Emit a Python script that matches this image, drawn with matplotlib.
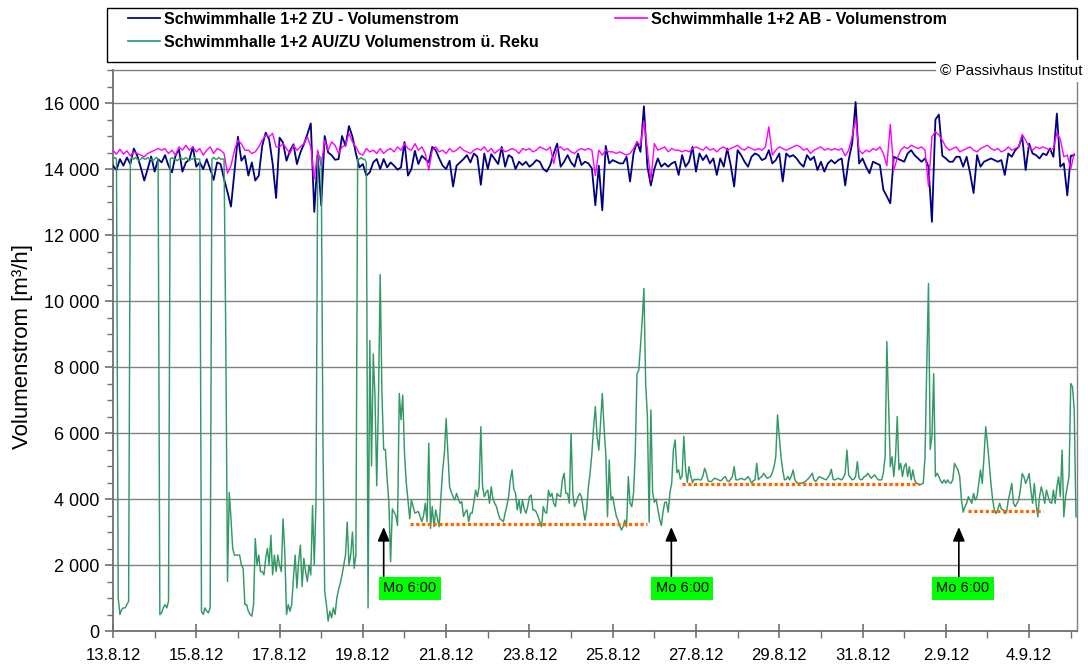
import numpy as np
import matplotlib
matplotlib.use("Agg")
import matplotlib.pyplot as plt
from matplotlib.lines import Line2D
from matplotlib.patches import Rectangle
from matplotlib.ticker import MultipleLocator, FixedLocator, FuncFormatter

plt.rcParams['font.family'] = ['Liberation Sans', 'DejaVu Sans']

# ---------------- data ----------------
# x tick labels (every 2 days from the left edge)
date_labels = ['13.8.12', '15.8.12', '17.8.12', '19.8.12', '21.8.12', '23.8.12',
               '25.8.12', '27.8.12', '29.8.12', '31.8.12', '2.9.12', '4.9.12']

series_names = ['Schwimmhalle 1+2 ZU - Volumenstrom',
                'Schwimmhalle 1+2 AB - Volumenstrom',
                'Schwimmhalle 1+2 AU/ZU Volumenstrom ü. Reku']

# ZU volume flow, 2-hour values (one row per day)
zu = [
    14100,13970,14300,14100,14350,14150,14620,14400,14050,13650,14000,14380,
    13920,14300,14200,14420,14100,13900,14400,14600,13920,14200,14280,14670,
    14070,14200,14000,14300,14000,13670,14200,14150,13700,13300,12860,13920,
    14980,14250,14400,13800,14200,13650,13800,14700,15100,14900,14170,13120,
    14950,14800,14250,14550,14750,14150,14500,14750,15050,15380,12700,14400,
    12900,15000,14500,14420,14280,14300,15000,14700,15300,14980,14470,14050,
    14150,13800,13900,14200,14300,14000,14300,14050,14200,14100,13980,14050,
    14820,13800,14000,14550,14150,14400,14300,14200,14670,14570,14320,14100,
    14000,14250,13470,14100,14200,14300,14420,14200,14470,14370,13520,14470,
    14000,14450,14300,14150,14670,14070,14420,14350,14000,14220,14120,14220,
    14070,14150,14270,14220,14000,13920,14120,14470,14770,14070,14220,14420,
    14200,14070,14470,14120,14220,14170,14020,12900,14100,12750,14700,14170,
    14270,14220,14170,14170,14370,13620,14470,14820,14520,15900,14070,13500,
    14000,14320,14070,14170,14070,14170,14220,13820,14420,14070,14220,14670,
    13920,14470,14270,14420,14170,14320,13820,14320,14070,14620,14120,13470,
    14570,14420,14220,14070,14370,14470,14420,14270,14320,14570,14170,14270,
    14470,13620,14470,14370,14420,14320,14170,14070,14420,14270,14370,13970,
    14220,13920,14170,14270,14170,14270,14320,13500,14270,14770,16030,14170,
    14320,14070,13870,14220,14170,14120,13370,13170,12960,14370,14320,14270,
    14220,14470,14570,14420,14320,14220,14320,14070,12400,15500,15650,14400,
    14320,14220,14220,14370,14370,14070,14370,13870,13270,14420,14070,14220,
    14270,14320,14270,14220,14270,13820,14470,14370,14570,14670,14980,13970,
    14770,14470,14420,14320,14470,14420,14620,14370,15680,14070,14170,13200,
    14400,14420,
]

# AB volume flow, 2-hour values
ab = [
    14570,14450,14600,14450,14550,14400,14520,14470,14420,14370,14470,14520,
    14570,14620,14570,14620,14470,14570,14420,14670,14570,14720,14570,14670,
    14520,14620,14420,14570,14670,14470,14620,14570,14470,13870,14100,14570,
    14870,14770,14570,14570,14470,14520,14670,14870,15030,14980,15080,14670,
    14670,14770,14620,14470,14720,14570,14670,14770,14970,14670,13700,14570,
    14100,14870,14570,14820,14720,14470,14670,14720,15080,14820,14670,14470,
    14420,14620,14520,14570,14470,14620,14470,14570,14620,14520,14670,14570,
    14770,14620,14570,14770,14570,14670,14470,13970,14570,14670,14520,14570,
    14470,14620,14520,14570,14670,14570,14520,14470,14570,14620,14570,14670,
    14520,14620,14470,14570,14620,14520,14570,14620,14570,14470,14620,14570,
    14620,14520,14570,14670,14620,14570,14670,14170,14620,14670,14570,14620,
    14520,14470,14570,14620,14570,14620,14570,13800,14570,14420,14570,14520,
    14520,14470,14520,14470,14420,14470,14620,14820,14720,15450,14570,13650,
    14770,14570,14620,14670,14520,14620,14570,14570,14520,14570,14520,14620,
    14670,14620,14570,14670,14570,14620,14520,14620,14670,14570,14620,14670,
    14720,14620,14570,14670,14620,14570,14620,14570,14670,15280,14420,14570,
    14670,14620,14570,14620,14670,14720,14670,14570,14620,14470,14570,14620,
    14670,14570,14620,14570,14620,14570,14620,14400,14570,14980,15520,14570,
    14470,14570,14520,14620,14570,14670,14470,14100,15350,13970,14320,14570,
    14670,14620,14720,14670,14620,14670,14570,13470,14980,15130,15030,14870,
    14670,14570,14620,14670,14520,14570,14620,14670,14570,14520,14620,14670,
    14720,14620,14570,14620,14520,14570,14670,14570,14620,14670,15050,14870,
    14670,14570,14670,14620,14670,14620,14570,14620,15100,14900,14370,14420,
    14000,14470,
]

# AU/ZU volume flow via heat recovery, hourly values (one row per day)
reku = [
    14300,14350,14300,1000,500,650,700,700,800,900,14300,14350,14300,14350,14300,14250,14300,14350,14300,14300,14350,14300,14300,14250,
    14300,14350,14300,500,550,700,800,700,900,14300,14350,14300,14300,14250,14300,14350,14300,14300,14350,14300,14250,14300,14300,14350,
    14300,14300,14300,600,500,700,600,550,700,14300,14350,14300,14300,14350,14300,14300,14300,8900,1500,4200,3400,2500,2300,2300,
    2300,2300,2000,1900,800,800,600,500,450,800,2800,2000,2300,1800,1800,1700,2200,2500,2000,2900,1700,2300,1800,2300,
    2000,1800,3400,2400,500,800,600,800,1600,2300,1300,2100,2600,1350,2200,1800,1500,2000,1700,3800,2000,3900,14300,14400,
    14300,5800,1200,800,300,600,400,700,500,1000,1250,1450,1700,2000,2300,3300,2000,2300,3000,1900,2300,14300,14300,14350,
    14300,14300,14200,700,8800,5000,8400,7100,4400,7000,10800,7200,5500,5500,4600,3900,2100,3700,3600,3500,3200,7200,6400,7150,
    5400,4500,3970,3400,3970,3770,3570,3600,3620,3470,3310,3500,3870,3310,5690,3110,3770,3160,3670,3400,3160,4070,4880,5380,
    6440,5380,4370,4200,4070,3970,4170,4000,3870,3920,3470,3600,3670,3310,3570,3570,3900,4270,4070,4370,6190,4370,4070,4200,
    4270,3870,4370,4000,3870,3770,3570,3400,3360,3310,3570,3800,4070,4580,4880,4300,4170,3670,3970,3570,3970,3700,3570,3770,
    4070,4120,3670,3670,3600,3470,3300,3160,3770,3600,3570,4270,4070,4170,3870,3770,4170,4100,4070,4580,4780,4170,4170,3870,
    5990,4170,3770,3900,4070,4170,4070,3700,3360,3670,4370,4800,5380,6190,6800,5890,5480,6300,7200,6190,5380,3460,5180,3970,
    4070,3770,3500,3360,3200,3060,3160,3360,3160,4680,3870,3770,4170,5380,7800,7900,8620,9420,10380,7500,6500,3300,6700,4200,
    3900,4000,3700,3400,3200,3600,3900,3900,3600,4200,4470,5500,5790,4800,4880,4600,4700,5900,4900,4500,4980,4700,4500,4600,
    4580,4600,4580,4580,4700,4930,4780,4550,4530,4530,4600,4630,4600,4580,4550,4580,4650,4680,4550,4530,4600,4680,4980,4580,
    4580,4600,4630,4600,4580,4620,4680,4600,4480,4550,4580,5080,4580,4650,4680,4780,4700,4630,4650,4680,4800,4980,5280,6550,
    5890,5280,4880,4580,4600,4680,4580,4700,4880,4580,4500,4480,4480,4480,4500,4530,4580,4630,4700,4780,4580,4530,4600,4680,
    4650,4630,4600,4580,4650,4730,4900,4600,4580,4600,4630,4600,4580,4650,4780,5480,4730,4650,4580,4600,4680,5130,4630,4580,
    4600,4680,4700,4780,4700,4630,4680,4730,4650,4580,4580,4580,4800,5280,8770,6900,4980,5280,4680,5280,6500,4880,5080,4680,
    4980,5080,4680,4980,4580,4880,4580,4480,4450,4430,4450,4480,5280,8000,10530,5500,5890,7800,4680,4780,4680,4550,4480,4580,
    4480,4580,4500,4480,4580,5080,4980,4880,4680,3970,3600,3770,3870,4070,3970,3870,4170,3970,4070,4470,4880,4470,5280,6190,
    5690,5080,4470,3970,3670,3560,3700,3870,3700,3670,3560,3600,3970,4200,4470,3870,3770,3870,3970,4300,4770,4670,4470,4600,
    4770,4270,3870,4470,3870,3460,4070,4370,4170,3870,4270,4070,3900,3870,4270,3870,4370,4670,4070,5480,3460,4070,4370,4670,
    7500,7400,6700,3460,
]

# reference levels (orange dotted): start hour, end hour, level
level_start_h = [171, 328, 493]
level_end_h = [308, 464.5, 536]
level_value = [3240, 4450, 3630]

# "Mo 6:00" markers: arrow hour, label centre hour
marker_hour = [156.0, 321.8, 487.5]
marker_label_hour = [171.2, 328.1, 489.8]
marker_text = 'Mo 6:00'

# ---------------- plot ----------------
zu = np.array(zu, float)
ab = np.array(ab, float)
reku = np.array(reku, float)
t2 = np.arange(len(zu)) * 2 / 24.0      # days from left edge
t1 = np.arange(len(reku)) / 24.0

W, H = 1088, 665
fig = plt.figure(figsize=(W / 100, H / 100), dpi=100)
ax = fig.add_axes([113 / W, 34 / H, 964 / W, 561 / H])

c_zu, c_ab, c_re = '#000080', '#FF00FF', '#339966'
ax.plot(t2, zu, color=c_zu, lw=1.3, zorder=3)
ax.plot(t2, ab, color=c_ab, lw=1.0, zorder=4)
ax.plot(t1, reku, color=c_re, lw=1.05, zorder=5)

for s, e, v in zip(level_start_h, level_end_h, level_value):
    ax.plot([s / 24, e / 24], [v, v], color='#FF6600', lw=2.3,
            linestyle=(0, (1.0, 0.8)), zorder=6)

for xa, xl in zip(marker_hour, marker_label_hour):
    ax.annotate('', xy=(xa / 24, 3150), xytext=(xa / 24, 1650),
                arrowprops=dict(arrowstyle='-|>,head_length=0.7,head_width=0.3',
                                color='black', lw=1.2, mutation_scale=12,
                                shrinkA=0, shrinkB=0), zorder=7)
    ax.text(xl / 24, 1290, marker_text, ha='center', va='center', fontsize=10.5,
            color='black', zorder=8,
            bbox=dict(boxstyle='square,pad=0.3', fc='#00FF00', ec='none'))

ax.set_xlim(0, 23.15)
ax.set_ylim(0, 17000)

ax.xaxis.set_major_locator(FixedLocator(np.arange(0, 2 * len(date_labels), 2)))
ax.set_xticklabels(date_labels)
ax.xaxis.set_minor_locator(MultipleLocator(1))
ax.yaxis.set_major_locator(FixedLocator(np.arange(0, 16001, 2000)))
ax.yaxis.set_minor_locator(MultipleLocator(500))
ax.yaxis.set_major_formatter(FuncFormatter(
    lambda v, p: '0' if v == 0 else '{:,}'.format(int(v)).replace(',', ' ')))

gc = '#808080'
ax.yaxis.grid(True, which='major', color=gc, lw=1.0)
ax.set_axisbelow(True)
for sp in ax.spines.values():
    sp.set_color(gc)
    sp.set_linewidth(1.0)
ax.spines['left'].set_color('#707070')
ax.spines['bottom'].set_color('#707070')
ax.spines['left'].set_linewidth(1.3)
ax.spines['bottom'].set_linewidth(1.3)

ax.tick_params(axis='x', which='major', direction='inout', length=10, width=1.2,
               color='#707070', pad=7, labelsize=12)
ax.tick_params(axis='x', which='minor', direction='out', length=5, width=1.0,
               color='#707070')
ax.tick_params(axis='y', which='major', direction='out', length=6, width=1.2,
               color='#707070', pad=4, labelsize=13)
ax.tick_params(axis='y', which='minor', direction='out', length=4, width=1.0,
               color='#707070')

ax.set_ylabel('Volumenstrom [m³/h]', fontsize=16)
ax.yaxis.set_label_coords(-0.083, 0.508)

# legend
fig.patches.append(Rectangle((107 / W, 1 - 62 / H), 970 / W, 54 / H,
                             transform=fig.transFigure, fill=False,
                             ec='black', lw=1.0, zorder=1))
lp = dict(family=['Liberation Sans', 'DejaVu Sans'], weight='bold', size=11.5)
h_zu = Line2D([], [], color=c_zu, lw=1.25)
h_ab = Line2D([], [], color=c_ab, lw=1.25)
h_re = Line2D([], [], color=c_re, lw=1.25)
fig.legend([h_zu, h_re], [series_names[0], series_names[2]], loc='upper left',
           bbox_to_anchor=(128 / W, 1 - 12 / H), frameon=False, prop=lp,
           handlelength=2.0, handletextpad=0.25, labelspacing=0.5,
           borderpad=0, borderaxespad=0)
fig.legend([h_ab], [series_names[1]], loc='upper left',
           bbox_to_anchor=(615 / W, 1 - 12 / H), frameon=False, prop=lp,
           handlelength=2.0, handletextpad=0.25, labelspacing=0.5,
           borderpad=0, borderaxespad=0)

fig.text(940 / W, 1 - 71 / H, '© Passivhaus Institut', fontsize=11,
         ha='left', va='center', zorder=10,
         bbox=dict(fc='white', ec='none', pad=2.5))

fig.savefig('out.png', dpi=100)
